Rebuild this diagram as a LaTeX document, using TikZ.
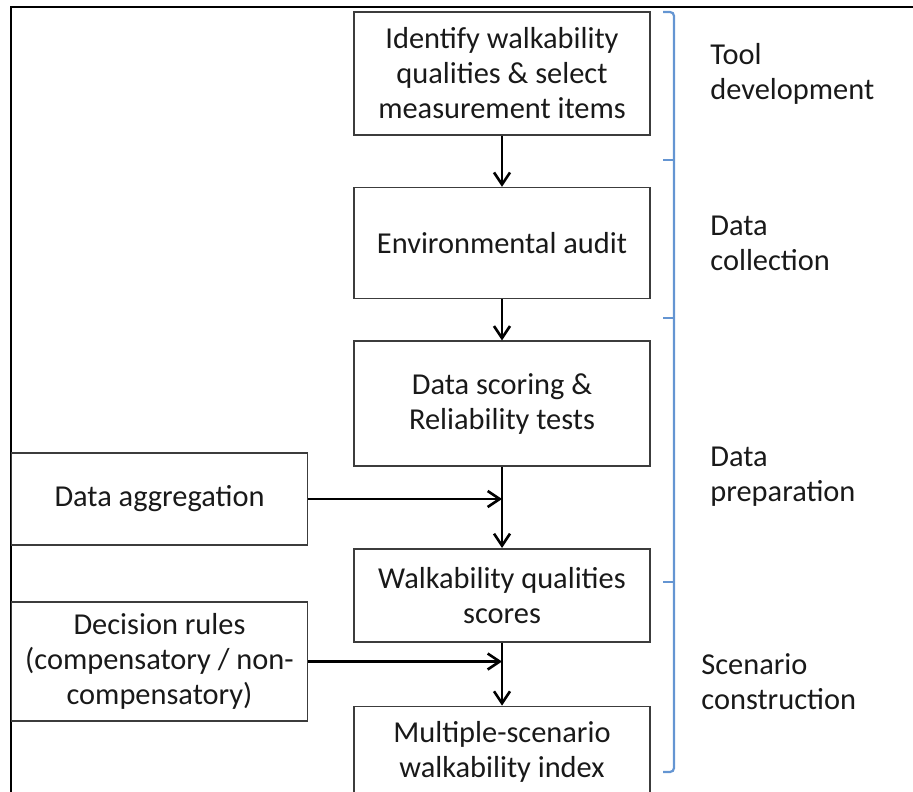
\documentclass[tikz,border=0pt]{standalone}
\usepackage{fontspec}
\setmainfont{Carlito}
\usetikzlibrary{positioning, arrows.meta}
\definecolor{bracketblue}{RGB}{100,149,210}
\definecolor{boxgray}{RGB}{60,60,60}
\definecolor{textgray}{RGB}{25,25,25}
\tikzset{%
  x=0.5pt, y=-0.5pt,
  box/.style={            % process steps
    draw=boxgray,
    line width=0.8pt,
    minimum width=148pt,
    align=center,
    inner sep=2pt,
    text=textgray,
    font=\fontsize{15.2}{17.5}\selectfont},
  phase/.style={          % stage names on the right
    anchor=west,
    align=left,
    inner sep=0pt,
    text=textgray,
    font=\fontsize{15.2}{17.5}\selectfont},
  flow/.style={
    -{Straight Barb[length=6pt,width=8pt]},
    line width=1.3pt},
  bracket/.style={
    draw=bracketblue,
    line width=1.1pt}
}

\begin{document}
\begin{tikzpicture}
  \useasboundingbox (0,0) rectangle (913,791);
  \clip (0,0) rectangle (913,791);
  % frame, cut off at right and bottom
  \draw[line width=1pt] (11,800) -- (11,7) -- (930,7);

  \node[box, minimum height=61.5pt] (ident) at (502,73.5)
        {Identify walkability\\qualities \& select\\measurement items};
  \node[box, minimum height=55.5pt, below=25.5pt of ident] (audit)
        {Environmental audit};
  \node[box, minimum height=62.5pt, below=20.5pt of audit] (score)
        {Data scoring \&\\Reliability tests};
  \node[box, minimum height=46.5pt, below=40.5pt of score] (wqs)
        {Walkability qualities\\scores};
  \node[box, minimum height=45pt, below=31.5pt of wqs] (msi)
        {Multiple-scenario\\walkability index};

  \node[box, minimum height=46pt] (agg) at (159.5,499) {Data aggregation};
  \node[box, minimum height=59.5pt] (rules) at (159.5,661.5)
        {Decision rules\\(compensatory / non-\\compensatory)};

  \draw[flow] (ident) -- (audit);
  \draw[flow] (audit) -- (score);
  \draw[flow] (score) -- (wqs);
  \draw[flow] (wqs) -- (msi);
  \draw[flow] (agg) -- (agg -| score.south);
  \draw[flow] (rules) -- (rules -| wqs.south);

  % stage brackets
  \draw[bracket, rounded corners=2pt] (663,12) -- (674,12) -- (674,772) -- (663,772);
  \foreach \y in {160,318,582}
    \draw[bracket] (674,\y) -- (663,\y);

  \node[phase] (tool) at (710,74) {Tool\\development};
  \node[phase] (collect) at (710,243) {Data\\collection};
  \node[phase] (prep) at (710,477) {Data\\preparation};
  \node[phase] (scen) at (701,682) {Scenario\\construction};
\end{tikzpicture}
\end{document}
